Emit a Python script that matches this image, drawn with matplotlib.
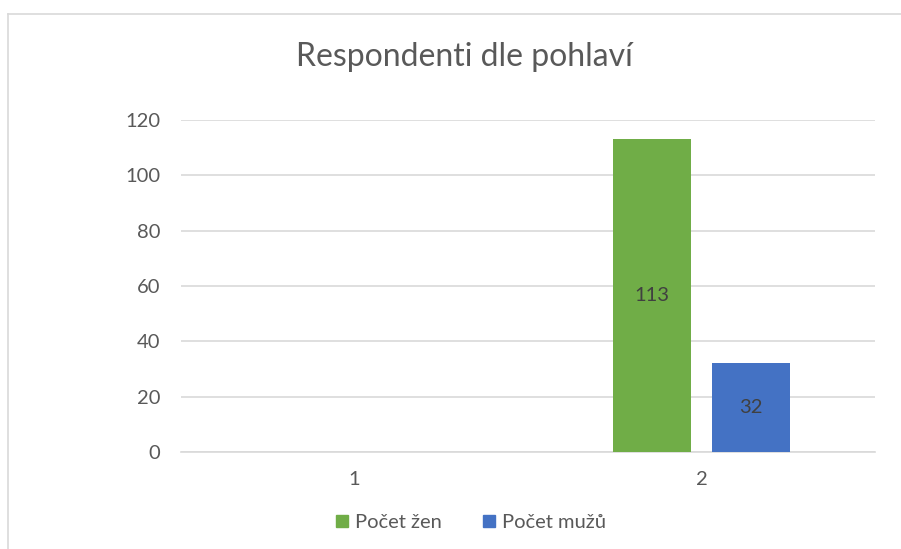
import matplotlib.pyplot as plt
from matplotlib.lines import Line2D

# chart data
categories = [1, 2]
zeny = [None, 113]
muzi = [None, 32]
series_names = ['Počet žen', 'Počet mužů']
colors = ['#70AD47', '#4472C4']
y_ticks = [0, 20, 40, 60, 80, 100, 120]

plt.rcParams['font.family'] = ['Lato', 'DejaVu Sans']

fig = plt.figure(figsize=(9.01, 5.49), dpi=100)
ax = fig.add_axes([181/901, 1 - 452/549, (875-181)/901, (452-120)/549])

width = 0.225
offset = 0.142
for vals, off, col in [(zeny, -offset, colors[0]), (muzi, offset, colors[1])]:
    for c, v in zip(categories, vals):
        if v is None:
            continue
        ax.bar(c + off, v, width=width, color=col, zorder=3)
        ax.text(c + off, v / 2, str(v), ha='center', va='center',
                fontsize=14.5, color='#404040', zorder=4)

ax.set_xlim(0.5, 2.5)
ax.set_ylim(0, 120)
ax.set_yticks(y_ticks)
ax.set_xticks(categories)
ax.set_xticklabels([str(c) for c in categories])
ax.grid(axis='y', color='#d9d9d9', linewidth=1.2, zorder=0)
for s in ['top', 'right', 'left']:
    ax.spines[s].set_visible(False)
ax.spines['bottom'].set_color('#d9d9d9')
ax.spines['bottom'].set_linewidth(1.2)
ax.tick_params(axis='both', length=0, labelsize=14.5, colors='#595959')
ax.tick_params(axis='y', pad=15)
ax.tick_params(axis='x', pad=14)

fig.text(464/901, 1 - 57/549, 'Respondenti dle pohlaví', ha='center', va='center',
         fontsize=23, color='#595959')

handles = [Line2D([], [], marker='s', linestyle='', markersize=9, color=c) for c in colors]
fig.legend(handles, series_names, loc='center', bbox_to_anchor=(469/901, 1 - 522/549),
           ncol=2, frameon=False, fontsize=14.5, labelcolor='#595959',
           handletextpad=0.15, columnspacing=1.8, handlelength=1.0)

# chart border (top and left visible)
fig.add_artist(Line2D([8/901, 1], [1 - 14/549, 1 - 14/549], color='#d9d9d9', linewidth=1.2))
fig.add_artist(Line2D([8/901, 8/901], [0, 1 - 14/549], color='#d9d9d9', linewidth=1.2))

fig.savefig('out.png', dpi=100)
